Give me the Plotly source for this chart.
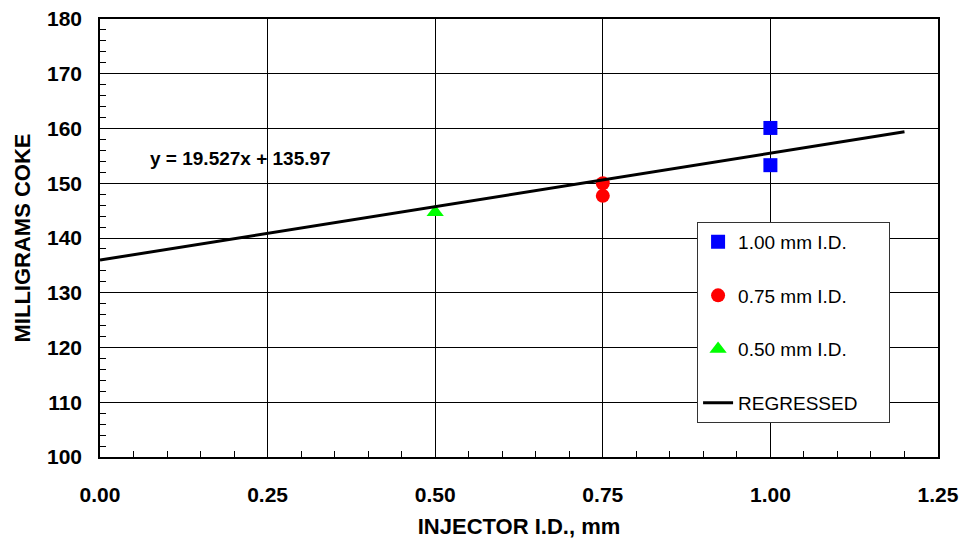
import plotly.graph_objects as go

# Data
x_100 = [1.00, 1.00]
y_100 = [160.1, 153.3]
x_075 = [0.75, 0.75]
y_075 = [150.0, 147.7]
x_050 = [0.50]
y_050 = [144.7]

slope = 19.527
intercept = 135.97
reg_x = [0.0, 1.2]
reg_y = [slope * v + intercept for v in reg_x]

x_ticks = [0.0, 0.25, 0.5, 0.75, 1.0, 1.25]
x_tick_labels = ["0.00", "0.25", "0.50", "0.75", "1.00", "1.25"]
y_ticks = [100, 110, 120, 130, 140, 150, 160, 170, 180]

FONT = "Liberation Sans, Arial, sans-serif"
PAD = "\u00a0" * 5

fig = go.Figure()
fig.add_trace(go.Scatter(x=x_100, y=y_100, mode="markers", name="1.00 mm I.D.",
                         legendgroup="a",
                         marker=dict(symbol="square", size=14, color="#0000FF")))
fig.add_trace(go.Scatter(x=x_075, y=y_075, mode="markers", name="0.75 mm I.D.",
                         legendgroup="b",
                         marker=dict(symbol="circle", size=14, color="#FF0000")))
fig.add_trace(go.Scatter(x=x_050, y=y_050, mode="markers", name="0.50 mm I.D.",
                         legendgroup="c",
                         marker=dict(symbol="triangle-up", size=15, color="#00FF00")))
fig.add_trace(go.Scatter(x=reg_x, y=reg_y, mode="lines", name="REGRESSED" + PAD,
                         legendgroup="d",
                         line=dict(color="black", width=3)))

fig.add_annotation(x=0.0716, y=154.6, xref="x", yref="y", xanchor="left",
                   text="<b>y = 19.527x + 135.97</b>", showarrow=False,
                   font=dict(family=FONT, size=19, color="black"))

tick_font = dict(family=FONT, size=21, color="black")
title_font = dict(family=FONT, size=22, color="black")

fig.update_xaxes(range=[0, 1.25], tickvals=x_ticks, ticktext=[f"<b>{t}</b>" for t in x_tick_labels],
                 showgrid=True, gridcolor="black", gridwidth=1,
                 showline=True, linecolor="black", linewidth=1.5, mirror=True,
                 ticks="inside", ticklen=6, tickcolor="black",
                 minor=dict(dtick=0.05, ticks="inside", ticklen=6, tickcolor="black", showgrid=False),
                 tickfont=tick_font, ticklabelstandoff=18, zeroline=False,
                 title=dict(text="<b>INJECTOR I.D., mm</b>", font=title_font, standoff=14))
fig.update_yaxes(range=[100, 180], tickvals=y_ticks, ticktext=[f"<b>{t}</b>" for t in y_ticks],
                 showgrid=True, gridcolor="black", gridwidth=1,
                 showline=True, linecolor="black", linewidth=1.5, mirror=True,
                 ticks="inside", ticklen=6, tickcolor="black",
                 minor=dict(dtick=2, ticks="inside", ticklen=6, tickcolor="black", showgrid=False),
                 tickfont=tick_font, ticklabelstandoff=12, zeroline=False,
                 title=dict(text="<b>MILLIGRAMS COKE</b>", font=title_font, standoff=10))

fig.update_layout(
    width=965, height=543,
    margin=dict(l=100, r=27, t=19, b=86, autoexpand=False),
    paper_bgcolor="white", plot_bgcolor="white",
    font=dict(family=FONT, color="black"),
    showlegend=True,
    legend=dict(x=0.7125, y=0.537, xanchor="left", yanchor="top",
                bgcolor="white", bordercolor="#333333", borderwidth=1,
                font=dict(family=FONT, size=19, color="black"),
                tracegroupgap=26, itemwidth=30,
                traceorder="grouped"),
)

fig.write_html("out.html", config={"displayModeBar": False},
               post_script="document.body.style.margin='0';document.body.style.padding='0';")
